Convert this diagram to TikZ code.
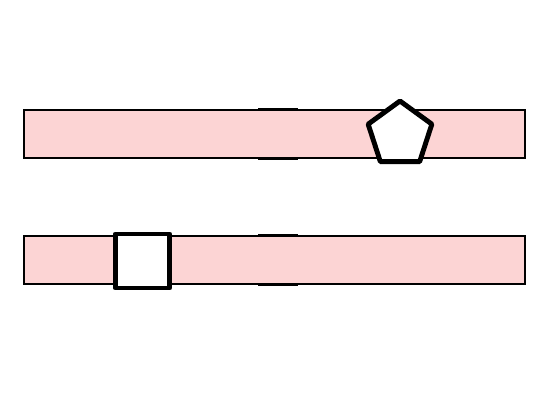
\documentclass[tikz,border=0pt]{standalone}
\usepackage{tikz}
\usetikzlibrary{shapes.geometric, positioning}
\definecolor{barpink}{RGB}{252,212,212}

\begin{document}
\begin{tikzpicture}[
    x=0.02cm, y=-0.02cm,
    bar/.style={
        draw,
        fill=barpink,
        line width=1.1pt,
        minimum width=10.02cm,
        minimum height=0.96cm,
        inner sep=0pt
    },
    token/.style={
        draw,
        fill=white,
        line width=2.8pt,
        line join=round,
        inner sep=0pt
    },
    mark line/.style={line width=1.6pt}
]
\useasboundingbox (0,0) rectangle (550,400);

% --- Bars ---
\node[bar] (topbar) at (274.5,134) {};
\node[bar] (lowbar) at (274.5,260) {};

% --- Middle marks on the bar edges ---
\foreach \b in {topbar, lowbar} {
    \draw[mark line] ([xshift=-0.33cm]\b.north) -- ([xshift=0.47cm]\b.north);
    \draw[mark line] ([xshift=-0.33cm]\b.south) -- ([xshift=0.47cm]\b.south);
}

% --- Tokens ---
\node[token, regular polygon, regular polygon sides=5, minimum size=1.34cm] (penta) at (400,134.5) {};
\node[token, rectangle, minimum size=1.08cm] (square) at (142.5,261) {};

\end{tikzpicture}
\end{document}
